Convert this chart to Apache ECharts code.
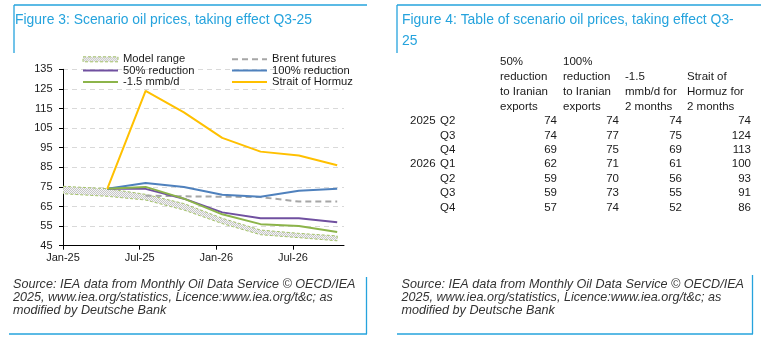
<!DOCTYPE html>
<html>
<head>
<meta charset="utf-8">
<script src="https://cdn.jsdelivr.net/npm/echarts@6/dist/echarts.min.js"></script>
<style>
  html, body { margin: 0; padding: 0; background: #ffffff; }
  #chart { width: 761px; height: 346px; }
</style>
</head>
<body>
<div id="chart"></div>
<script>
// Scenario periods (quarterly), each stamped mid-way through the quarter's first month
const quarters = ['2025 Q2', '2025 Q3', '2025 Q4', '2026 Q1', '2026 Q2', '2026 Q3', '2026 Q4'];
const scenarioDates = ['2025-04-15', '2025-07-15', '2025-10-15', '2026-01-15', '2026-04-15', '2026-07-15', '2026-10-15'];

// Scenario prices, $/bbl
const reduction50 = [74, 74, 69, 62, 59, 59, 57];
const reduction100 = [74, 77, 75, 71, 70, 73, 74];
const cut15 = [74, 75, 69, 61, 56, 55, 52];
const hormuz = [74, 124, 113, 100, 93, 91, 86];

// Brent futures curve, from Q3-25
const brentDates = ['2025-07-15', '2025-10-15', '2026-01-15', '2026-04-15', '2026-07-15', '2026-10-15'];
const brent = [70.5, 70.2, 70, 69.8, 67.5, 67.5];

// Model range band
const modelDates = ['2025-01-01', '2025-04-15', '2025-07-15', '2025-10-15', '2026-01-15', '2026-04-15', '2026-07-15', '2026-10-15'];
const modelLow = [71.5, 70.2, 68.3, 63.2, 56.3, 50.6, 49.1, 47.5];
const modelHigh = [75.3, 74.1, 71.2, 66.5, 59, 53, 51.3, 50];

// Axis labels
const yTicks = [45, 55, 65, 75, 85, 95, 105, 115, 125, 135];
const xTickLabels = ['Jan-25', 'Jul-25', 'Jan-26', 'Jul-26'];

// Table column headers
const tableHeaders = [
  '50%\nreduction\nto Iranian\nexports',
  '100%\nreduction\nto Iranian\nexports',
  '-1.5\nmmb/d for\n2 months',
  'Strait of\nHormuz for\n2 months'
];

const titleLeft = 'Figure 3: Scenario oil prices, taking effect Q3-25';
const titleRight = 'Figure 4: Table of scenario oil prices, taking effect Q3-\n25';
const sourceText = 'Source: IEA data from Monthly Oil Data Service \u00A9 OECD/IEA\n2025, www.iea.org/statistics, Licence:www.iea.org/t&c; as\nmodified by Deutsche Bank';

// Months elapsed since 1 Jan 2025
function monthsSince(d) {
  const [y, m, day] = d.split('-').map(Number);
  return (y - 2025) * 12 + (m - 1) + (day - 1) / 30;
}
function pairs(dates, vals) {
  return dates.map((d, i) => [monthsSince(d), vals[i]]);
}

// Stippled grey fill for the model range
function stipple() {
  const c = document.createElement('canvas');
  c.width = 2; c.height = 2;
  const g = c.getContext('2d');
  g.fillStyle = '#f5f5f5'; g.fillRect(0, 0, 2, 2);
  g.fillStyle = '#c6c6c6'; g.fillRect(0, 0, 1, 1); g.fillRect(1, 1, 1, 1);
  return { image: c, repeat: 'repeat' };
}
const bandFill = stipple();

const FONT = 'Liberation Sans, Arial, sans-serif';
const BLUE = '#25a3dd';
const TEXT = '#1a1a1a';
const GREEN_EDGE = '#a5c46a';

const chart = echarts.init(document.getElementById('chart'), null, { renderer: 'canvas' });

const lineSeries = (name, dates, vals, color, extra) => Object.assign({
  name, type: 'line', data: pairs(dates, vals), symbol: 'none',
  lineStyle: { color, width: 2 }, itemStyle: { color }, z: 3, silent: true
}, extra || {});

// Table drawn as text
const graphics = [];
const colLeft = [500, 563, 625, 687];
const colRight = [557, 619, 682, 751];
tableHeaders.forEach((h, i) => {
  graphics.push({
    type: 'text', left: colLeft[i], top: 54 + (4 - h.split('\n').length) * 15,
    style: { text: h, font: '11.5px ' + FONT, fill: TEXT, lineHeight: 15 }
  });
});
const cols = [reduction50, reduction100, cut15, hormuz];
quarters.forEach((q, r) => {
  const [yr, qt] = q.split(' ');
  const y = 121 + r * 14.43;
  const prevYr = r > 0 ? quarters[r - 1].split(' ')[0] : null;
  if (yr !== prevYr) {
    graphics.push({ type: 'text', x: 410, y, style: { text: yr, font: '11.5px ' + FONT, fill: TEXT, verticalAlign: 'middle' } });
  }
  graphics.push({ type: 'text', x: 440, y, style: { text: qt, font: '11.5px ' + FONT, fill: TEXT, verticalAlign: 'middle' } });
  cols.forEach((c, k) => {
    graphics.push({ type: 'text', x: colRight[k], y, style: { text: String(c[r]), font: '11.5px ' + FONT, fill: TEXT, align: 'right', verticalAlign: 'middle' } });
  });
});

// Titles, sources and panel frames
graphics.push(
  { type: 'text', x: 15, y: 20, style: { text: titleLeft, font: '13.9px ' + FONT, fill: BLUE, verticalAlign: 'middle' } },
  { type: 'text', x: 402, y: 10, style: { text: titleRight, font: '13.9px ' + FONT, fill: BLUE, lineHeight: 20.7 } },
  { type: 'text', x: 13, y: 278.5, style: { text: sourceText, font: 'italic 12.6px ' + FONT, fill: '#333333', lineHeight: 12.8 } },
  { type: 'text', x: 401.5, y: 278.5, style: { text: sourceText, font: 'italic 12.6px ' + FONT, fill: '#333333', lineHeight: 12.8 } }
);
const frame = [
  [14, 5, 367, 5], [14, 5, 14, 53], [9, 334, 367, 334], [366.5, 277, 366.5, 334],
  [397, 5, 761, 5], [397, 5, 397, 53], [397, 334, 753, 334], [752.5, 275, 752.5, 334]
];
frame.forEach(([x1, y1, x2, y2]) => graphics.push({
  type: 'line', shape: { x1, y1, x2, y2 }, style: { stroke: BLUE, lineWidth: 1.3 }
}));

const legendText = { fontFamily: FONT, fontSize: 11.2, color: TEXT, lineHeight: 11 };
const noSymbol = { opacity: 0 };

chart.setOption({
  animation: false,
  grid: { left: 63, right: 417, top: 69.3, bottom: 100.3 },
  legend: [
    {
      orient: 'vertical', left: 82, top: 53.8, padding: 0, itemWidth: 35, itemHeight: 5, itemGap: 0.3,
      textStyle: legendText, selectedMode: false,
      data: [
        { name: 'Model range', icon: 'rect', itemStyle: { color: bandFill, borderColor: GREEN_EDGE, borderWidth: 1, borderType: [3, 2] } },
        { name: '50% reduction', itemStyle: noSymbol },
        { name: '-1.5 mmb/d', itemStyle: noSymbol }
      ]
    },
    {
      orient: 'vertical', left: 231, top: 53.8, padding: 0, itemWidth: 35, itemHeight: 5, itemGap: 0.3,
      textStyle: legendText, selectedMode: false,
      data: [
        { name: 'Brent futures', itemStyle: noSymbol },
        { name: '100% reduction', itemStyle: noSymbol },
        { name: 'Strait of Hormuz', itemStyle: noSymbol }
      ]
    }
  ],
  xAxis: {
    type: 'value', min: 0, max: 22, interval: 6,
    axisLine: { lineStyle: { color: '#000', width: 1 } },
    axisTick: { length: 4, lineStyle: { color: '#000' }, customValues: [0, 6, 12, 18] },
    axisLabel: {
      customValues: [0, 6, 12, 18], margin: 7,
      formatter: v => xTickLabels[Math.round(v / 6)] || '',
      fontFamily: FONT, fontSize: 11, color: TEXT
    },
    splitLine: { show: false }
  },
  yAxis: {
    type: 'value', min: yTicks[0], max: yTicks[yTicks.length - 1], interval: 10,
    axisLine: { show: true, lineStyle: { color: '#000', width: 1 } },
    axisTick: { show: true, length: 4, lineStyle: { color: '#000' } },
    axisLabel: { margin: 10.5, fontFamily: FONT, fontSize: 11, color: TEXT },
    splitLine: { show: true, lineStyle: { color: '#d9d9d9', type: [5, 4], width: 1 } }
  },
  series: [
    {
      // Band between the low and high model estimates
      name: 'Model range', type: 'custom', silent: true, z: 1, clip: true,
      itemStyle: { color: '#c8c8c8' },
      encode: { x: 0, y: [1, 2] },
      data: modelDates.map((d, i) => [monthsSince(d), modelLow[i], modelHigh[i]]),
      renderItem(params, api) {
        if (params.dataIndexInside !== 0) return null;
        const n = params.dataInsideLength;
        const upper = [], lower = [];
        for (let i = 0; i < n; i++) {
          const x = api.value(0, i);
          lower.push(api.coord([x, api.value(1, i)]));
          upper.push(api.coord([x, api.value(2, i)]));
        }
        return {
          type: 'polygon',
          shape: { points: upper.concat(lower.reverse()) },
          style: { fill: bandFill, stroke: GREEN_EDGE, lineWidth: 1, lineDash: [3, 2] }
        };
      }
    },
    lineSeries('Brent futures', brentDates, brent, '#a6a6a6', { lineStyle: { color: '#a6a6a6', width: 2, type: [6, 4] }, z: 2 }),
    lineSeries('50% reduction', scenarioDates, reduction50, '#7050a0'),
    lineSeries('100% reduction', scenarioDates, reduction100, '#4f81bd'),
    lineSeries('-1.5 mmb/d', scenarioDates, cut15, '#8cb44a'),
    lineSeries('Strait of Hormuz', scenarioDates, hormuz, '#ffc000')
  ],
  graphic: graphics
});
</script>
</body>
</html>
